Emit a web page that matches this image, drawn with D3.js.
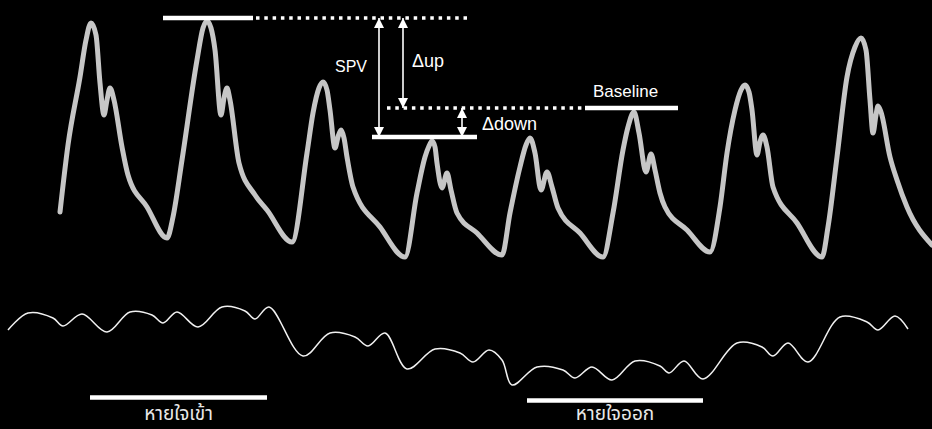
<!DOCTYPE html>
<html>
<head>
<meta charset="utf-8">
<script src="https://cdn.jsdelivr.net/npm/d3@7/dist/d3.min.js"></script>
<style>
  html, body { margin: 0; padding: 0; background: #000; }
  svg { display: block; }
  text { font-family: "Liberation Sans", Arial, Helvetica, sans-serif; fill: #fff; }
  .thai { font-family: "Noto Sans Thai", "Noto Sans", "DejaVu Sans", sans-serif; fill: #e8e8e8; }
</style>
</head>
<body>
<svg id="chart" width="932" height="429"></svg>
<script>
// ---- Data ----
// Arterial pressure trace: time (s) and pressure (mmHg)
const pressureTime = [
  0.60,0.68,0.80,0.86,0.91,0.96,1.00,1.04,1.07,1.10,1.14,1.22,1.28,1.47,1.67,
  1.73,1.82,1.97,2.03,2.07,2.11,2.15,2.21,2.24,2.27,2.30,2.39,2.55,2.67,2.92,
  3.07,3.13,3.19,3.23,3.27,3.30,3.35,3.38,3.41,3.44,3.47,3.53,3.80,4.05,
  4.17,4.25,4.29,4.32,4.35,4.37,4.42,4.47,4.51,4.57,4.77,5.02,
  5.10,5.20,5.26,5.30,5.35,5.41,5.47,5.52,5.58,5.80,6.03,
  6.13,6.23,6.28,6.34,6.39,6.46,6.51,6.55,6.60,6.65,6.87,7.10,
  7.20,7.27,7.35,7.41,7.45,7.49,7.52,7.57,7.60,7.63,7.67,7.73,7.97,8.22,
  8.28,8.37,8.47,8.55,8.61,8.66,8.70,8.73,8.76,8.78,8.81,8.90,8.97,9.07,9.32
];
const pressureValue = [
  43,76.5,110.5,129,137.5,131.5,107.5,91.5,99,105,99,75.5,61.5,45.5,30,
  40.5,69,119,135,138.5,135,124,91.5,100,105,99,67.5,51.5,44,28,
  72.5,92.5,105,108,104,94,75,80.5,84,80,70.5,55.5,35.5,20.5,
  52.5,70.5,76,78.5,75.5,67.5,55,62.5,54,42.5,32.5,21.5,
  42.5,65.5,76.5,80,72.5,54,63,55.5,45,32.5,20.5,
  42.5,74,85.5,93,82.5,63,72,64,52.5,45.5,34,23,
  45.5,72.5,94,104,106.5,103,94,71.5,78,81.5,75.5,55.5,37.5,20.5,
  35.5,70.5,110.5,125.5,130,124,99,82.5,91.5,96,93,70.5,59,45.5,26.5
];

// Respiratory trace: time (s) and airway signal (arbitrary units)
const respTime = [
  0.08,0.28,0.53,0.63,0.82,1.07,1.30,1.52,1.63,1.77,1.98,2.22,2.45,2.55,2.69,
  3.03,3.30,3.55,3.68,3.85,4.07,4.35,4.60,4.73,4.89,5.02,5.12,5.37,5.63,5.75,
  5.92,6.12,6.35,6.60,6.69,6.84,7.03,7.37,7.62,7.73,7.88,8.08,8.40,8.67,8.78,
  8.95,9.08
];
const respValue = [
  70,87,82,74,86,68,88,85,77,88,73,93,89,81,93,
  44,67,63,54,67,31,51,47,38,50,40,15,33,30,22,
  33,20,39,34,27,39,21,57,53,44,57,38,83,78,70,
  84,71
];

// Reference levels (mmHg)
const levelNames  = ["max", "baseline", "min"];
const levelValues = [140, 95, 80.5];

// Horizontal reference lines: [level index, start time, end time, style]
const refLevel = [0, 0, 1, 1, 2];
const refStart = [1.63, 2.56, 3.87, 5.85, 3.72];
const refEnd   = [2.53, 4.67, 5.85, 6.78, 4.77];
const refStyle = ["solid", "dotted", "dotted", "solid", "solid"];

// Arrows: time, from level, to level
const arrowTime = [3.79, 4.03, 4.62];
const arrowFrom = [0, 0, 1];
const arrowTo   = [2, 1, 2];

// Annotation labels
const annoText  = ["SPV", "\u0394up", "\u0394down", "Baseline"];
const annoTime  = [3.35, 4.12, 4.82, 5.93];
const annoValue = [113, 115.5, 84, 100.5];
const annoSize  = [16, 18, 18, 17];

// Respiration phases
const phaseText  = ["หายใจเข้า", "หายใจออก"];
const phaseStart = [0.90, 5.27];
const phaseEnd   = [2.67, 7.03];
const phaseBar   = [2.5, -0.5];
const phaseLabel = [-20, -20];

// ---- Chart ----
const W = 932, H = 429;
const svg = d3.select("#chart");
svg.append("rect").attr("width", W).attr("height", H).attr("fill", "#000");

const x  = d3.scaleLinear().domain([0, 9.32]).range([0, 932]);
const yP = d3.scaleLinear().domain([20, 140]).range([258, 18]);
const yR = d3.scaleLinear().domain([0, 100]).range([400, 300]);

const pData = pressureTime.map((t, i) => [t, pressureValue[i]]);
const rData = respTime.map((t, i) => [t, respValue[i]]);

const pLine = d3.line().x(d => x(d[0])).y(d => yP(d[1])).curve(d3.curveMonotoneX);
const rLine = d3.line().x(d => x(d[0])).y(d => yR(d[1])).curve(d3.curveCatmullRom.alpha(0.5));

svg.append("path").datum(pData)
  .attr("d", pLine)
  .attr("fill", "none")
  .attr("stroke", "#c6c6c6")
  .attr("stroke-width", 5)
  .attr("stroke-linejoin", "round")
  .attr("stroke-linecap", "round");

svg.append("path").datum(rData)
  .attr("d", rLine)
  .attr("fill", "none")
  .attr("stroke", "#f0f0f0")
  .attr("stroke-width", 1.5)
  .attr("stroke-linejoin", "round");

// reference lines
refLevel.forEach((lv, i) => {
  const yy = yP(levelValues[lv]);
  const ln = svg.append("line")
    .attr("x1", x(refStart[i])).attr("x2", x(refEnd[i]))
    .attr("y1", yy).attr("y2", yy)
    .attr("stroke", "#fff");
  if (refStyle[i] === "dotted") {
    ln.attr("stroke-width", 3.5).attr("stroke-dasharray", "3.5 4.8");
  } else {
    ln.attr("stroke-width", 4.5);
  }
});

// arrows
const defs = svg.append("defs");
function marker(id, orient) {
  defs.append("marker")
    .attr("id", id)
    .attr("viewBox", "0 0 10 10")
    .attr("refX", 10).attr("refY", 5)
    .attr("markerWidth", 10).attr("markerHeight", 10)
    .attr("markerUnits", "userSpaceOnUse")
    .attr("orient", orient)
    .append("path").attr("d", "M0,0 L10,5 L0,10 Z").attr("fill", "#fff");
}
marker("ah", "auto-start-reverse");
arrowTime.forEach((t, i) => {
  svg.append("line")
    .attr("x1", x(t)).attr("x2", x(t))
    .attr("y1", yP(levelValues[arrowFrom[i]]))
    .attr("y2", yP(levelValues[arrowTo[i]]))
    .attr("stroke", "#fff")
    .attr("stroke-width", 1.6)
    .attr("marker-start", "url(#ah)")
    .attr("marker-end", "url(#ah)");
});

// annotation labels
annoText.forEach((s, i) => {
  svg.append("text")
    .attr("x", x(annoTime[i])).attr("y", yP(annoValue[i]))
    .attr("font-size", annoSize[i])
    .text(s);
});

// respiration phases
phaseText.forEach((s, i) => {
  const yy = yR(phaseBar[i]);
  svg.append("line")
    .attr("x1", x(phaseStart[i])).attr("x2", x(phaseEnd[i]))
    .attr("y1", yy).attr("y2", yy)
    .attr("stroke", "#fff").attr("stroke-width", 4.5);
  svg.append("text")
    .attr("class", "thai")
    .attr("x", x((phaseStart[i] + phaseEnd[i]) / 2))
    .attr("y", yR(phaseLabel[i]))
    .attr("text-anchor", "middle")
    .attr("font-size", 19)
    .text(s);
});
</script>
</body>
</html>
